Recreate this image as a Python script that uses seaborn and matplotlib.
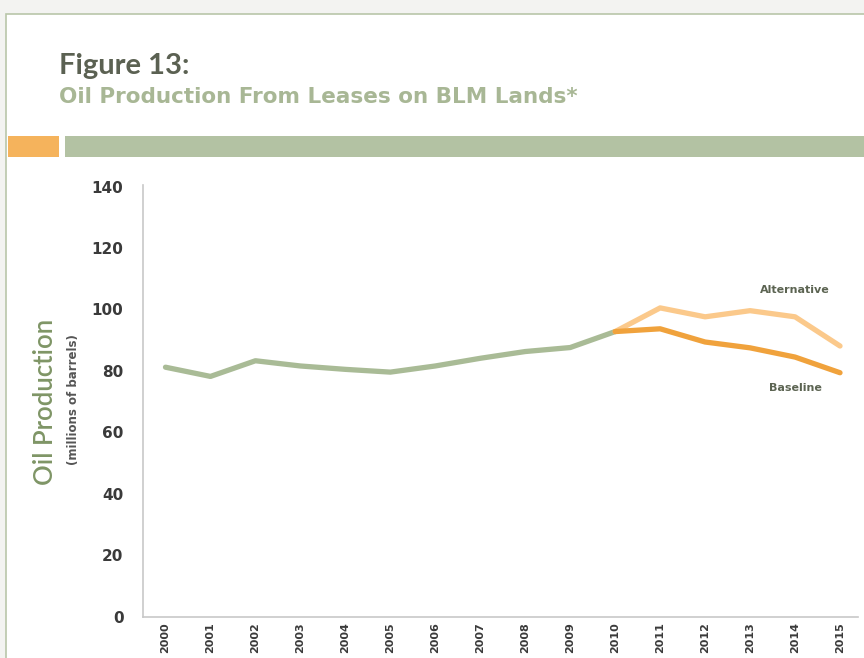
import matplotlib
matplotlib.use("Agg")
import matplotlib.pyplot as plt
import matplotlib.patches as mpatches
import seaborn as sns
import pandas as pd

years_hist = [2000, 2001, 2002, 2003, 2004, 2005, 2006, 2007, 2008, 2009, 2010]
hist_values = [81.2, 78.2, 83.3, 81.6, 80.5, 79.6, 81.6, 84.1, 86.3, 87.6, 92.8]
years_proj = [2010, 2011, 2012, 2013, 2014, 2015]
baseline_values = [92.8, 93.7, 89.4, 87.5, 84.5, 79.4]
alternative_values = [92.8, 100.5, 97.6, 99.6, 97.6, 88.1]
year_labels = [str(y) for y in range(2000, 2016)]
y_ticks = [0, 20, 40, 60, 80, 100, 120, 140]

df = pd.concat([
    pd.DataFrame({"year": years_hist, "value": hist_values, "series": "Historical"}),
    pd.DataFrame({"year": years_proj, "value": alternative_values, "series": "Alternative"}),
    pd.DataFrame({"year": years_proj, "value": baseline_values, "series": "Baseline"}),
], ignore_index=True)

sns.set_theme(style="white")
plt.rcParams["font.family"] = ["Lato", "DejaVu Sans"]

W, H = 864, 658
fig = plt.figure(figsize=(W / 100, H / 100), dpi=100)
fig.patch.set_facecolor("#f3f3f1")

def fx(x):
    return x / W

def fy(y):
    return 1 - y / H

# white panel with green border
fig.patches.append(mpatches.Rectangle((fx(6), -0.01), 1 - fx(6) + 0.01, fy(14) + 0.01, transform=fig.transFigure,
                                      facecolor="white", edgecolor="#b9c6a9", linewidth=1.2, zorder=-5))
# header bars
fig.patches.append(mpatches.Rectangle((fx(8), fy(157)), fx(59) - fx(8), fy(136) - fy(157),
                                      transform=fig.transFigure, facecolor="#f5b35c", edgecolor="none", zorder=-4))
fig.patches.append(mpatches.Rectangle((fx(65), fy(157)), 1 - fx(65), fy(136) - fy(157),
                                      transform=fig.transFigure, facecolor="#b3c2a3", edgecolor="none", zorder=-4))

fig.text(fx(59), fy(66), "Figure 13:", fontsize=21, fontweight="bold", color="#5b6152", va="center", ha="left")
fig.text(fx(59), fy(97), "Oil Production From Leases on BLM Lands*", fontsize=15.5, fontweight="bold",
         family=["DejaVu Sans"], color="#a8b795", va="center", ha="left")

ax = fig.add_axes([fx(143), fy(616.7), fx(858) - fx(143), fy(185) - fy(616.7)], zorder=5)
ax.set_facecolor("none")

palette = {"Historical": "#a9bb96", "Alternative": "#fbc98b", "Baseline": "#f0a23c"}
sns.lineplot(data=df, x="year", y="value", hue="series", palette=palette, linewidth=3.8,
             legend=False, ax=ax, sort=False)

ax.set_xlim(1999.5, 2015.4)
ax.set_ylim(0, 140.5)
ax.set_yticks(y_ticks)
ax.set_yticklabels([str(v) for v in y_ticks], fontsize=11, fontweight="bold", color="#3a3a3a",
                   family=["DejaVu Sans"])
ax.set_xticks(list(range(2000, 2016)))
ax.set_xticklabels(year_labels, rotation=90, fontsize=8, fontweight="bold", color="#3a3a3a",
                   family=["DejaVu Sans"])
ax.tick_params(axis="y", length=0, pad=14)
ax.tick_params(axis="x", length=0, pad=4)
for s in ["top", "right"]:
    ax.spines[s].set_visible(False)
for s in ["left", "bottom"]:
    ax.spines[s].set_color("#c8c8c8")
    ax.spines[s].set_linewidth(1.2)
ax.set_xlabel("")
ax.set_ylabel("")

ax.text(2014.0, 106.4, "Alternative", fontsize=8, fontweight="bold", color="#5c6452", ha="center",
        va="center", family=["DejaVu Sans"])
ax.text(2014.0, 74.5, "Baseline", fontsize=8, fontweight="bold", color="#5c6452", ha="center",
        va="center", family=["DejaVu Sans"])

fig.text(fx(46), fy(402), "Oil Production", fontsize=18.5, fontweight="semibold", color="#7f9566",
         rotation=90, ha="center", va="center")
fig.text(fx(74), fy(400), "(millions of barrels)", fontsize=8.5, fontweight="bold", color="#555555",
         rotation=90, ha="center", va="center", family=["DejaVu Sans"])

fig.savefig("out.png", dpi=100, facecolor=fig.get_facecolor())
